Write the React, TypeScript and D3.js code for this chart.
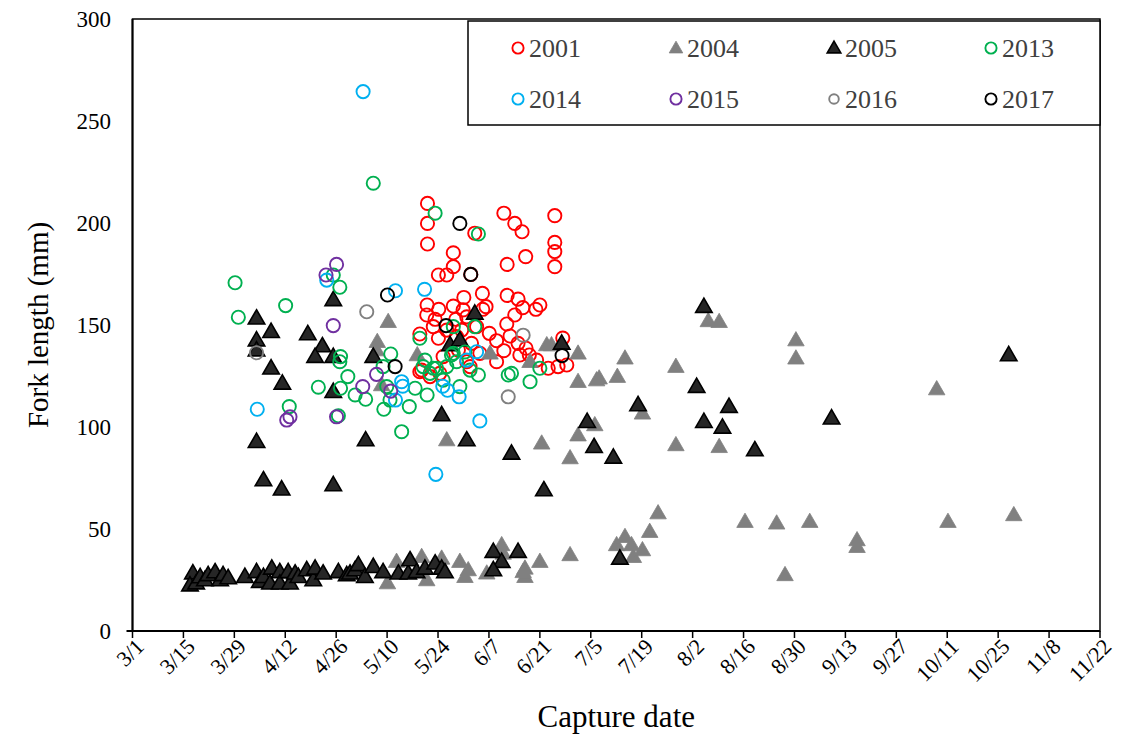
import React from "react";
import * as d3 from "d3";

// x values: days after 1 March; y values: fork length (mm)
const xTickLabels = ["3/1","3/15","3/29","4/12","4/26","5/10","5/24","6/7","6/21","7/5","7/19","8/2","8/16","8/30","9/13","9/27","10/11","10/25","11/8","11/22"];
const yTickValues = [0, 50, 100, 150, 200, 250, 300];
const years = ["2001","2004","2005","2013","2014","2015","2016","2017"];

const fl2001: [number, number][] = [
  [81.1,209.6],[81.1,199.8],[81.1,189.7],[88.2,185.4],[88.2,178.6],[84.1,174.5],[86.4,174.5],[94.1,195],
  [102.1,204.8],[105.1,199.8],[107.1,195.7],[103.0,179.7],[108.1,183.5],[116.1,203.6],[116.1,190.5],[116.1,186],
  [116.1,178.6],[93.0,174.8],[96.2,165.5],[91.1,163.5],[81.0,159.8],[84.2,157.7],[88.2,159.3],[97.2,159],
  [103.0,164.5],[106.0,162.7],[107.3,158.5],[112.0,159.8],[110.9,157.7],[105.1,154.9],[102.9,150.5],[80.9,154.9],
  [83.2,152.8],[90.9,157.4],[91.9,154],[88.9,152.8],[96.3,157.7],[98.1,145.9],[100.1,142.3],[103.8,144.6],
  [106.0,141],[108.2,138.6],[109.1,135.3],[84.1,143.5],[79.0,145.6],[89.1,144.3],[93.2,141],[102.1,137.4],
  [111.1,132.8],[114.3,128.8],[117.0,129.6],[119.4,130.4],[100.1,132],[91.9,132],[86.4,147.5],[90.5,147.5],
  [82.7,149.2],[79.0,127.1],[81.8,124.7],[84.5,126.3],[89.6,137.7],[95.5,136.1],[85.4,134.5],[92.8,129.6],
  [106.5,135.3],[94.6,149.2],[118.3,143.6],[79.5,127.9]
];

const fl2004: [number, number][] = [
  [70.3,151.6],[67.3,141.8],[67.1,137.7],[68.5,120.6],[78.3,135.3],[86.4,93.6],[98.3,136.1],[113.9,140.2],
  [115.2,140.2],[122.5,136.1],[109.3,132],[122.5,122.2],[127.6,123],[112.5,92],[122.5,96],[120.3,84.8],
  [158.3,152],[161.3,151.6],[182.4,142.6],[182.4,133.7],[135.4,133.7],[128.3,123.9],[133.3,124.7],[149.4,129.6],
  [140.2,106.7],[127.1,101],[149.4,91.2],[161.3,90.3],[221.1,118.6],
  [101.5,42.2],[92.3,29.9],[90.0,34],[97.4,28.3],[107.9,30.7],[107.9,26.6],[112.0,34],[120.3,37.3],
  [133.1,42.2],[135.4,46.2],[137.2,42.2],[137.7,36.4],[140.2,39.7],[142.2,48.7],[144.5,57.8],[168.4,53.6],
  [177.1,52.8],[186.2,53.6],[179.4,27.5],[199.2,44.6],[199.2,41.3],[224.2,53.6],[242.3,56.9],
  [70.1,23.5],[72.6,34],[79.5,36.4],[80.9,25],[85.0,35.6],[91.4,26.6],[101.9,38],[107.4,29]
];

const fl2005: [number, number][] = [
  [34.1,153.3],[34.1,142.6],[34.1,137.7],[38.1,146.7],[48.2,145.6],[52.2,139.7],[50.2,134.5],[55.2,134.5],
  [55.2,162.3],[66.2,134.5],[38.1,128.8],[41.2,121.4],[55.2,117.3],[85.0,105.9],[91.9,93.6],[34.1,92.8],
  [64.1,93.6],[36.0,74],[41.0,69.5],[55.2,71.6],[87.3,140.2],[90.0,142.6],[94.1,155.7],[118.0,141],
  [125.0,102.6],[126.9,90.3],[104.2,87.1],[157.1,159],[155.1,119.8],[164.0,110],[157.1,102.6],[162.2,99.8],
  [139.0,110.8],[132.2,85.1],[171.1,88.7],[192.2,104.3],[240.9,135.3],[113.1,69.1],[134.0,35.6],
  [99.2,38.9],[101.5,34],[99.2,29.9],[106.0,38.9],
  [16.6,28.4],[15.8,22.5],[17.5,23.5],[18.6,26.5],[19.9,25],[20.8,27.5],[22.7,28.9],[24.1,25],[24.9,27.5],[26.3,26],
  [30.9,26.6],[34.1,29],[35.0,24.2],[36.0,26.6],[37.8,23.4],[38.3,30.7],[40.5,29],[40.5,23.4],[42.8,29],
  [43.3,23.4],[44.7,28.3],[45.6,26.6],[47.9,29.9],[49.7,25],[50.2,30.7],[52.4,28.3],[56.6,29],[58.9,27.5],
  [59.8,28.3],[61.2,29.9],[62.1,32.4],[63.9,26.6],[66.2,31.5],[68.9,29],[73.1,28.3],[75.8,28.3],[76.3,34.8],
  [78.1,29],[80.4,30.7],[83.2,33.2],[85.0,30.7],[85.9,28.9]
];

const fl2013: [number, number][] = [
  [28.2,170.7],[29.1,153.8],[42.1,159.5],[43.1,110],[66.2,219.5],[57.0,168.5],[55.2,174.5],[57.2,134.5],
  [57.0,132],[59.2,124.7],[51.1,119.5],[57.2,119],[61.2,115.7],[64.1,113.6],[56.6,105.5],[71.0,135.8],
  [68.9,129.6],[69.9,119.8],[69.1,108.7],[70.8,113.2],[76.1,110],[74.0,97.7],[77.7,119],[81.0,115.7],
  [79.9,129.6],[82.7,128.8],[79.0,143.5],[88.2,136.1],[90.0,119.8],[83.2,204.8],[95.1,194.6],[94.1,149.2],
  [88.2,149.2],[87.7,135.3],[81.8,126.3],[83.6,128.8],[86.4,129.6],[89.1,132],[95.1,125.5],[103.3,125.5],
  [104.2,126.3],[109.3,122.2],[112.0,128.8],[91.4,136.8],[92.8,127.9],[85.4,123],[80.4,132.8]
];

const fl2014: [number, number][] = [
  [63.4,264.4],[53.4,172],[72.3,166.8],[80.3,167.5],[34.3,108.7],[74.3,120],[72.3,113.2],[85.3,120],
  [86.6,118],[89.8,114.8],[91.9,132.8],[83.4,76.8],[94.6,136.9],[95.5,103],[74.0,122.2]
];

const fl2015: [number, number][] = [
  [53.2,174.5],[56.1,179.7],[55.2,149.7],[67.1,125.8],[63.3,119.8],[42.4,103.4],[43.3,105],[56.1,105],[71.0,117.6]
];

const fl2016: [number, number][] = [
  [64.4,156.5],[34.1,136.4],[107.4,145],[103.3,114.8]
];

const fl2017: [number, number][] = [
  [70.1,164.7],[72.2,129.6],[86.2,149.7],[90.0,199.8],[93.0,174.8],[118.1,135]
];

type Style = { shape: "circle" | "triangle"; stroke: string; fill: string };
const seriesData = [fl2001, fl2004, fl2005, fl2013, fl2014, fl2015, fl2016, fl2017];
const seriesStyle: Style[] = [
  { shape: "circle", stroke: "#FF0000", fill: "none" },
  { shape: "triangle", stroke: "#808080", fill: "#808080" },
  { shape: "triangle", stroke: "#000000", fill: "#262626" },
  { shape: "circle", stroke: "#00B050", fill: "none" },
  { shape: "circle", stroke: "#00B0F0", fill: "none" },
  { shape: "circle", stroke: "#7030A0", fill: "none" },
  { shape: "circle", stroke: "#808080", fill: "none" },
  { shape: "circle", stroke: "#000000", fill: "none" },
];

const W = 1130, H = 734;
const L = 132.5, R = 1100, T = 19, B = 631;
const FONT = "'Liberation Serif', 'Times New Roman', serif";

export default function App() {
  const x = d3.scaleLinear().domain([0, 266]).range([L, R]);
  const y = d3.scaleLinear().domain([0, 300]).range([B, T]);
  const tri = d3.symbol(d3.symbolTriangle).size(118)() as string;
  const triLegend = d3.symbol(d3.symbolTriangle).size(80)() as string;
  const xTicks = xTickLabels.map((lab, i) => ({ lab, v: i * 14 }));

  const marker = (s: Style, cx: number, cy: number, key: string, legend = false, small = false) =>
    s.shape === "circle" ? (
      <circle key={key} cx={cx} cy={cy} r={small ? 4.8 : legend ? 5.6 : 6.6} fill="none" stroke={s.stroke} strokeWidth={1.9} />
    ) : (
      <path key={key} d={legend ? triLegend : tri} transform={`translate(${cx},${cy + 1})`} fill={s.fill}
        stroke={s.stroke} strokeWidth={s.stroke === "#000000" ? 1.6 : 0.8} />
    );

  const legendCols = [518, 676, 834, 991];
  const legendRows = [48, 99];

  return (
    <svg width={W} height={H} style={{ position: "absolute", left: 0, top: 0, background: "#fff" }} fontFamily={FONT}>
      <rect x={0} y={0} width={W} height={H} fill="#fff" />
      {/* plot frame */}
      <rect x={L} y={T} width={R - L} height={B - T} fill="none" stroke="#000" strokeWidth={1.5} />
      <line x1={L} x2={L} y1={T} y2={B} stroke="#000" strokeWidth={2} />
      <line x1={L - 6} x2={R} y1={B} y2={B} stroke="#000" strokeWidth={2} />
      {/* y labels */}
      {yTickValues.map((v) => (
        <text key={v} x={111} y={y(v)} dy="0.35em" textAnchor="end" fontSize={23} fill="#000">{v}</text>
      ))}
      {/* x ticks */}
      {xTicks.map((t) => (
        <g key={t.lab}>
          <line x1={x(t.v)} x2={x(t.v)} y1={B} y2={B + 7} stroke="#000" strokeWidth={1.5} />
          <text transform={`translate(${x(t.v) + 2},${B + 6}) rotate(-45)`} textAnchor="end" dy="0.7em" fontSize={22} fill="#000">{t.lab}</text>
        </g>
      ))}
      <text x={(L + R) / 2} y={727} textAnchor="middle" fontSize={31} fill="#000">Capture date</text>
      <text transform={`translate(48,${(T + B) / 2}) rotate(-90)`} textAnchor="middle" fontSize={29} fill="#000">Fork length (mm)</text>
      {/* data */}
      {seriesData.map((data, si) => (
        <g key={years[si]}>
          {data.map((d, i) => marker(seriesStyle[si], x(d[0]), y(d[1]), `${si}-${i}`))}
        </g>
      ))}
      {/* legend */}
      <rect x={468} y={21} width={R - 468} height={104} fill="#fff" stroke="#000" strokeWidth={1.5} />
      {years.map((yr, i) => {
        const cx = legendCols[i % 4];
        const cy = legendRows[Math.floor(i / 4)];
        return (
          <g key={yr}>
            {marker(seriesStyle[i], cx, cy, `lg-${yr}`, true, yr === "2016")}
            <text x={cx + 11} y={cy} dy="0.35em" fontSize={26} fill="#404040">{yr}</text>
          </g>
        );
      })}
    </svg>
  );
}
